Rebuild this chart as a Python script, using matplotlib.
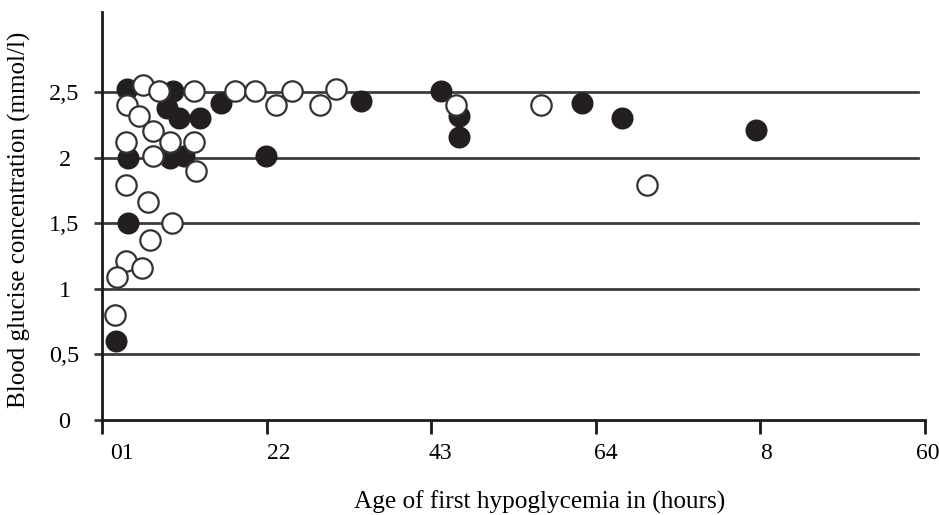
import matplotlib
matplotlib.use("Agg")
import matplotlib.pyplot as plt
import matplotlib.transforms as mtransforms

# age at first hypoglycemia (hours) and glucose (mmol/l)
filled_x = [3.2, 9.1, 8.3, 9.8, 12.5, 15.2, 3.35, 8.7, 10.4, 20.9, 3.35, 1.75,
            33.0, 43.3, 45.6, 45.6, 61.3, 66.3, 83.5]
filled_y = [2.52, 2.51, 2.38, 2.30, 2.30, 2.42, 2.00, 2.00, 2.01, 2.01, 1.50, 0.605,
            2.43, 2.51, 2.32, 2.16, 2.42, 2.30, 2.21]

open_x = [5.2, 7.3, 11.7, 3.2, 4.75, 6.5, 3.05, 8.7, 11.7, 6.5, 12.0, 3.0, 5.9,
          8.9, 6.1, 3.0, 5.1, 1.95, 1.65, 17.0, 19.5, 22.2, 24.2, 27.8, 29.9,
          45.2, 56.0, 69.5]
open_y = [2.55, 2.51, 2.51, 2.40, 2.32, 2.20, 2.12, 2.12, 2.12, 2.01, 1.90, 1.79, 1.66,
          1.50, 1.37, 1.21, 1.16, 1.09, 0.80, 2.51, 2.51, 2.40, 2.51, 2.40, 2.52,
          2.40, 2.40, 1.79]

x_ticks = [0, 21, 42, 63, 84, 105]
x_labels = ["01", "22", "43", "64", "8", "60"]
x_label_shift = [20, 12, 9, 10, 6, 3]  # px, labels sit a bit right of the ticks
y_ticks = [0, 0.5, 1, 1.5, 2, 2.5]
y_labels = ["0", "0,5", "1", "1,5", "2", "2,5"]

plt.rcParams['font.family'] = ['Liberation Serif', 'DejaVu Serif']

fig = plt.figure(figsize=(9.39, 5.15), dpi=100)
ax = fig.add_axes([102 / 939, 95 / 515, 823 / 939, 408 / 515])

for yv in y_ticks[1:]:
    ax.axhline(yv, xmin=0, xmax=0.992, color='#3d3d3d', lw=2.0, zorder=1)

ax.scatter(filled_x, filled_y, s=215, c='#231f20', edgecolors='#231f20',
           linewidths=1.2, zorder=3)
ax.scatter(open_x, open_y, s=215, c='white', edgecolors='#333333',
           linewidths=1.6, zorder=4)

ax.set_xlim(0, 105)
ax.set_ylim(0, 3.11)

for side in ['top', 'right']:
    ax.spines[side].set_visible(False)
for side in ['left', 'bottom']:
    ax.spines[side].set_linewidth(2.0)
    ax.spines[side].set_color('#1a1a1a')

ax.set_xticks(x_ticks)
ax.set_xticklabels(x_labels, fontsize=17)
ax.set_yticks(y_ticks)
ax.set_yticklabels(y_labels, fontsize=17.5)
ax.tick_params(axis='x', direction='out', length=10, width=2, color='#1a1a1a', pad=6.5)
ax.tick_params(axis='y', direction='out', length=6, width=2, color='#3d3d3d', pad=21)
for lbl in ax.get_yticklabels():
    lbl.set_horizontalalignment('center')

for lbl, dx in zip(ax.get_xticklabels(), x_label_shift):
    lbl.set_transform(lbl.get_transform() +
                      mtransforms.ScaledTranslation(dx / 100, 0, fig.dpi_scale_trans))

ax.set_xlabel("Age of first hypoglycemia in (hours)", fontsize=18.2, va='center')
ax.xaxis.set_label_coords((540 - 102) / 823, -(502 - 420) / 408)
ax.set_ylabel("Blood glucise concentration (mmol/l)", fontsize=18, va='center')
ax.yaxis.set_label_coords(-(102 - 19) / 823, (420 - 220) / 408)

fig.savefig("out.png", dpi=100)
